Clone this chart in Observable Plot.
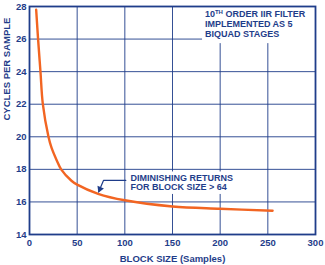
<!DOCTYPE html>
<html>
<head>
<meta charset="utf-8">
<script src="https://cdn.jsdelivr.net/npm/d3@7"></script>
<script src="https://cdn.jsdelivr.net/npm/@observablehq/plot@0.6"></script>
<style>
  html, body { margin: 0; padding: 0; background: #fff; }
  #chart { width: 325px; height: 265px; }
</style>
</head>
<body>
<div id="chart"></div>
<script>
// Data
const blockSize = [7, 9, 11.5, 14, 19.9, 23, 28.6, 33.2, 44, 50, 72, 100, 150, 200, 255];
const cyclesPerSample = [27.8, 26, 24, 22, 20, 19.35, 18.55, 18, 17.3, 17.06, 16.5, 16.1, 15.72, 15.58, 15.46];
const xTicks = [0, 50, 100, 150, 200, 250, 300];
const yTicks = [14, 16, 18, 20, 22, 24, 26, 28];
const xLabel = "BLOCK SIZE (Samples)";
const yLabel = "CYCLES PER SAMPLE";
const note1 = "10TH ORDER IIR FILTER\nIMPLEMENTED AS 5\nBIQUAD STAGES";
const note2 = "DIMINISHING RETURNS\nFOR BLOCK SIZE > 64";

const navy = "#1f3d8a";
const orange = "#f26522";

const curve = blockSize.map((b, i) => ({b, c: cyclesPerSample[i]}));

// annotation geometry (data units)
const box1 = {x1: 181.5, x2: 300, y1: 25.72, y2: 28};
const box2 = {x1: 102.8, x2: 221.3, y1: 16.46, y2: 17.84};
const text1 = {x: 184, y: 27.75};
const text2 = {x: 106, y: 17.68};
const leader = [{x: 101, y: 17.32}, {x: 77.6, y: 17.32}, {x: 72.6, y: 16.62}];
const tip = {x: 72.6, y: 16.62};

const chart = Plot.plot({
  width: 325,
  height: 265,
  marginLeft: 29,
  marginRight: 10,
  marginTop: 6,
  marginBottom: 31,
  style: {fontFamily: "'Liberation Sans', Arial, sans-serif", fontWeight: "bold", fontSize: "9.5px", color: navy, background: "#fff", overflow: "visible"},
  x: {domain: [0, 300]},
  y: {domain: [14, 28]},
  marks: [
    Plot.gridX(xTicks.filter(d => d > 0 && d < 300), {stroke: navy, strokeOpacity: 0.9, strokeWidth: 1}),
    Plot.gridY(yTicks.filter(d => d > 14 && d < 28), {stroke: navy, strokeOpacity: 0.9, strokeWidth: 1}),
    Plot.axisX(xTicks, {tickSize: 0, tickPadding: 5, fill: navy, label: null, fontWeight: "bold"}),
    Plot.axisY(yTicks, {tickSize: 0, tickPadding: 3, fill: navy, label: null, fontWeight: "bold"}),
    Plot.rect([box1, box2], {x1: "x1", x2: "x2", y1: "y1", y2: "y2", fill: "#fff"}),
    Plot.line(curve, {x: "b", y: "c", stroke: orange, strokeWidth: 2.4, curve: "catmull-rom"}),
    Plot.text([text1], {x: "x", y: "y", text: () => note1, textAnchor: "start", lineAnchor: "top", lineHeight: 1.08, fill: navy, fontSize: 9, fontWeight: "bold"}),
    Plot.text([text2], {x: "x", y: "y", text: () => note2, textAnchor: "start", lineAnchor: "top", lineHeight: 1.0, fill: navy, fontSize: 9, fontWeight: "bold"}),
    Plot.line(leader, {x: "x", y: "y", stroke: navy, strokeWidth: 1.2}),
    Plot.dot([tip], {x: "x", y: "y", symbol: "triangle", r: 2.6, fill: navy, stroke: "none", rotate: 203, dx: 1.2, dy: -2.8}),
    Plot.text([xLabel], {frameAnchor: "bottom", text: d => d, dy: 27, fill: navy, fontSize: 9.5, fontWeight: "bold"}),
    Plot.text([yLabel], {frameAnchor: "left", text: d => d, rotate: -90, dx: -23, fill: navy, fontSize: 9.5, fontWeight: "bold"}),
    Plot.frame({stroke: navy, strokeWidth: 1.8})
  ]
});
document.getElementById("chart").appendChild(chart);

// superscript "TH" in the first note
chart.querySelectorAll("tspan, text").forEach(el => {
  if (el.childElementCount === 0 && el.textContent === "10TH ORDER IIR FILTER") {
    el.textContent = "";
    const ns = "http://www.w3.org/2000/svg";
    const a = document.createElementNS(ns, "tspan"); a.textContent = "10";
    const b = document.createElementNS(ns, "tspan"); b.textContent = "TH"; b.setAttribute("font-size", "6"); b.setAttribute("dy", "-3");
    const c = document.createElementNS(ns, "tspan"); c.textContent = " ORDER IIR FILTER"; c.setAttribute("dy", "3");
    el.append(a, b, c);
  }
});
</script>
</body>
</html>
